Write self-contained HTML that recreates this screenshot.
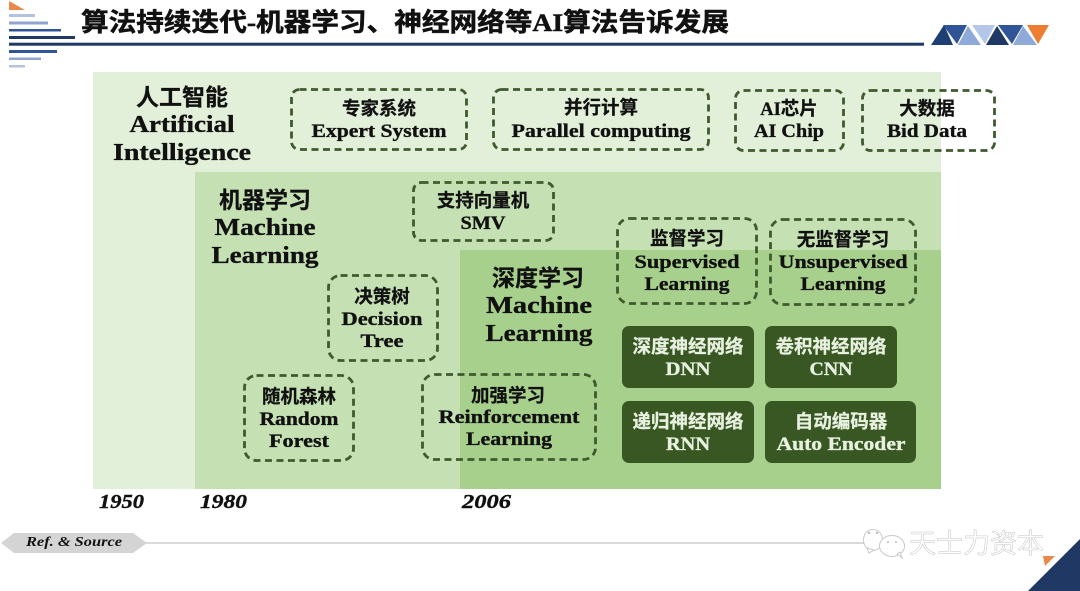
<!DOCTYPE html>
<html><head><meta charset="utf-8"><style>
html,body{margin:0;padding:0;background:#fff;width:1080px;height:591px;overflow:hidden}
svg{display:block;filter:blur(.3px)}
.c{font-family:"Liberation Sans","Noto Sans CJK SC",sans-serif;font-weight:700;fill:#111;text-anchor:middle;stroke:#111;stroke-width:.25}
.e{font-family:"Liberation Serif",serif;font-weight:700;fill:#111;text-anchor:middle;stroke:#111;stroke-width:.35}
.y{font-family:"Liberation Serif",serif;font-weight:700;font-style:italic;fill:#111;font-size:20px;stroke:#111;stroke-width:.4}
.l{fill:#e8f1e0;stroke:#e8f1e0}
.d{fill:none;stroke:#3f5a2e;stroke-width:2.8;stroke-dasharray:7 4.5}
.b{fill:#385723}
</style></head><body>
<svg width="1080" height="591" viewBox="0 0 1080 591" xmlns="http://www.w3.org/2000/svg">
<polygon points="9,1 25,10 9,10" fill="#e8894a"/>
<g>
<rect x="9" y="14" width="26" height="3" fill="#b4c2e0"/>
<rect x="9" y="21.500" width="39" height="3" fill="#8fa5cf"/>
<rect x="9" y="29" width="52" height="2.500" fill="#2f5597"/>
<rect x="9" y="36" width="66" height="3" fill="#1f3864"/>
<rect x="9" y="42.700" width="915" height="3" fill="#1f3864"/>
<rect x="9" y="50" width="48" height="3" fill="#2f5597"/>
<rect x="9" y="57.500" width="32" height="2.500" fill="#8fa5cf"/>
<rect x="9" y="65" width="16" height="2.500" fill="#b4c2e0"/>
</g>
<text x="81" y="31" font-family="'Liberation Serif','Noto Sans CJK SC',sans-serif" font-weight="700" font-size="25.500" fill="#111" stroke="#111" stroke-width=".5" textLength="648" lengthAdjust="spacingAndGlyphs">算法持续迭代-机器学习、神经网络等AI算法告诉发展</text>
<polygon points="931,45 944,25 953,45" fill="#1f3f73"/>
<polygon points="943,25 967,25 957,44" fill="#2f5597"/>
<polygon points="958,45 968,26 981,45" fill="#8fa9d8"/>
<polygon points="972,25 995,25 985,44" fill="#b4c7e7"/>
<polygon points="986,45 997,26 1009,45" fill="#1f3864"/>
<polygon points="998,25 1023,25 1012,44" fill="#2f5597"/>
<polygon points="1013,45 1023,26 1037,45" fill="#8fa9d8"/>
<polygon points="1027,25 1049,25 1038,44" fill="#ed7d31"/>

<rect x="93" y="72" width="848" height="417" fill="#e2efd9"/>
<rect x="195" y="172" width="746" height="317" fill="#c5e0b3"/>
<rect x="460" y="250" width="481" height="239" fill="#a8d08d"/>

<text class="c" x="182" y="105" font-size="23">人工智能</text>
<text class="e" x="182" y="132" font-size="24" textLength="105" lengthAdjust="spacingAndGlyphs">Artificial</text>
<text class="e" x="182" y="160" font-size="24" textLength="138" lengthAdjust="spacingAndGlyphs">Intelligence</text>

<text class="c" x="265" y="208" font-size="23">机器学习</text>
<text class="e" x="265" y="235" font-size="24" textLength="101" lengthAdjust="spacingAndGlyphs">Machine</text>
<text class="e" x="265" y="263" font-size="24" textLength="107" lengthAdjust="spacingAndGlyphs">Learning</text>

<text class="c" x="538" y="286" font-size="23">深度学习</text>
<text class="e" x="539" y="313" font-size="24" textLength="106" lengthAdjust="spacingAndGlyphs">Machine</text>
<text class="e" x="539" y="341" font-size="24" textLength="107" lengthAdjust="spacingAndGlyphs">Learning</text>

<rect class="d" x="291.500" y="89.500" width="175" height="60" rx="8"/>
<text class="c" x="379" y="115" font-size="18.500">专家系统</text>
<text class="e" x="379" y="137" font-size="19" textLength="135" lengthAdjust="spacingAndGlyphs">Expert System</text>

<rect class="d" x="493.500" y="89.500" width="215" height="60" rx="8"/>
<text class="c" x="601" y="114" font-size="18.500">并行计算</text>
<text class="e" x="601" y="137" font-size="19" textLength="179" lengthAdjust="spacingAndGlyphs">Parallel computing</text>

<rect class="d" x="735.500" y="90.500" width="108" height="60" rx="8"/>
<text class="c" x="789" y="115" font-size="18.500" style="font-family:'Liberation Serif','Noto Sans CJK SC',serif">AI芯片</text>
<text class="e" x="789" y="137" font-size="19" textLength="70" lengthAdjust="spacingAndGlyphs">AI Chip</text>

<rect class="d" x="862.500" y="90.500" width="132" height="60" rx="8"/>
<text class="c" x="927" y="115" font-size="18.500">大数据</text>
<text class="e" x="927" y="137" font-size="19" textLength="80" lengthAdjust="spacingAndGlyphs">Bid Data</text>

<rect class="d" x="413.500" y="182.500" width="140" height="58" rx="8"/>
<text class="c" x="483" y="207" font-size="18.500">支持向量机</text>
<text class="e" x="483" y="229" font-size="19" textLength="45" lengthAdjust="spacingAndGlyphs">SMV</text>

<rect class="d" x="328.500" y="275.500" width="109" height="85" rx="12"/>
<text class="c" x="382" y="303" font-size="18.500">决策树</text>
<text class="e" x="382" y="325" font-size="19" textLength="81" lengthAdjust="spacingAndGlyphs">Decision</text>
<text class="e" x="382" y="347" font-size="19" textLength="43" lengthAdjust="spacingAndGlyphs">Tree</text>

<rect class="d" x="244.500" y="375.500" width="109" height="85" rx="12"/>
<text class="c" x="299" y="403" font-size="18.500">随机森林</text>
<text class="e" x="299" y="425" font-size="19" textLength="79" lengthAdjust="spacingAndGlyphs">Random</text>
<text class="e" x="299" y="447" font-size="19" textLength="60" lengthAdjust="spacingAndGlyphs">Forest</text>

<rect class="d" x="422.500" y="374.500" width="173" height="85" rx="12"/>
<text class="c" x="508" y="402" font-size="18.500">加强学习</text>
<text class="e" x="509" y="423" font-size="19" textLength="141" lengthAdjust="spacingAndGlyphs">Reinforcement</text>
<text class="e" x="509" y="445" font-size="19" textLength="86" lengthAdjust="spacingAndGlyphs">Learning</text>

<rect class="d" x="617.500" y="218.500" width="139" height="85" rx="12"/>
<text class="c" x="687" y="245" font-size="18.500">监督学习</text>
<text class="e" x="687" y="268" font-size="19" textLength="105" lengthAdjust="spacingAndGlyphs">Supervised</text>
<text class="e" x="687" y="290" font-size="19" textLength="85" lengthAdjust="spacingAndGlyphs">Learning</text>

<rect class="d" x="770.500" y="219.500" width="145" height="85" rx="12"/>
<text class="c" x="843" y="246" font-size="18.500">无监督学习</text>
<text class="e" x="843" y="268" font-size="19" textLength="129" lengthAdjust="spacingAndGlyphs">Unsupervised</text>
<text class="e" x="843" y="290" font-size="19" textLength="85" lengthAdjust="spacingAndGlyphs">Learning</text>

<rect class="b" x="622" y="326" width="132" height="62" rx="7"/>
<text class="c l" x="688" y="353" font-size="18.500">深度神经网络</text>
<text class="e l" x="688" y="375" font-size="19" textLength="45" lengthAdjust="spacingAndGlyphs">DNN</text>

<rect class="b" x="765" y="326" width="132" height="62" rx="7"/>
<text class="c l" x="831" y="353" font-size="18.500">卷积神经网络</text>
<text class="e l" x="831" y="375" font-size="19" textLength="43" lengthAdjust="spacingAndGlyphs">CNN</text>

<rect class="b" x="622" y="401" width="132" height="62" rx="7"/>
<text class="c l" x="688" y="428" font-size="18.500">递归神经网络</text>
<text class="e l" x="688" y="450" font-size="19" textLength="44" lengthAdjust="spacingAndGlyphs">RNN</text>

<rect class="b" x="765" y="401" width="151" height="62" rx="7"/>
<text class="c l" x="841" y="428" font-size="18.500">自动编码器</text>
<text class="e l" x="841" y="450" font-size="19" textLength="129" lengthAdjust="spacingAndGlyphs">Auto Encoder</text>

<text class="y" x="99" y="508" textLength="45" lengthAdjust="spacingAndGlyphs">1950</text>
<text class="y" x="200" y="508" textLength="47" lengthAdjust="spacingAndGlyphs">1980</text>
<text class="y" x="462" y="508" textLength="49" lengthAdjust="spacingAndGlyphs">2006</text>

<rect x="146" y="542" width="720" height="2" fill="#d9d9d9"/>
<polygon points="1,543 14,533 133,533 147,543 133,553 14,553" fill="#d4d4d4"/>
<text x="26" y="546" font-family="'Liberation Serif',serif" font-weight="700" font-style="italic" font-size="14" fill="#111" textLength="96" lengthAdjust="spacingAndGlyphs">Ref. &amp; Source</text>

<g fill="#fff" stroke="#c8c8c8" stroke-width="1">
<ellipse cx="873" cy="540" rx="9.500" ry="10.500"/>
<polygon points="867,548 869,553 874,550"/>
<ellipse cx="892" cy="546" rx="12.500" ry="10.500"/>
<polygon points="897,554 902,558 900,552"/>
</g>
<g fill="#bdbdbd">
<circle cx="869" cy="533" r="1.200"/><circle cx="877" cy="533" r="1.200"/>
<circle cx="888" cy="542" r="1"/><circle cx="896" cy="542" r="1"/>
</g>
<text x="909" y="553" font-family="'Liberation Sans','Noto Sans CJK SC',sans-serif" font-size="27" fill="#fff" stroke="#c4c4c4" stroke-width="0.500" textLength="135" lengthAdjust="spacingAndGlyphs">天士力资本</text>

<polygon points="1080,539 1080,591 1028,591" fill="#1f3864"/>
<polygon points="1043,556 1055,556 1045,566" fill="#e8894a"/>
</svg>
</body></html>
